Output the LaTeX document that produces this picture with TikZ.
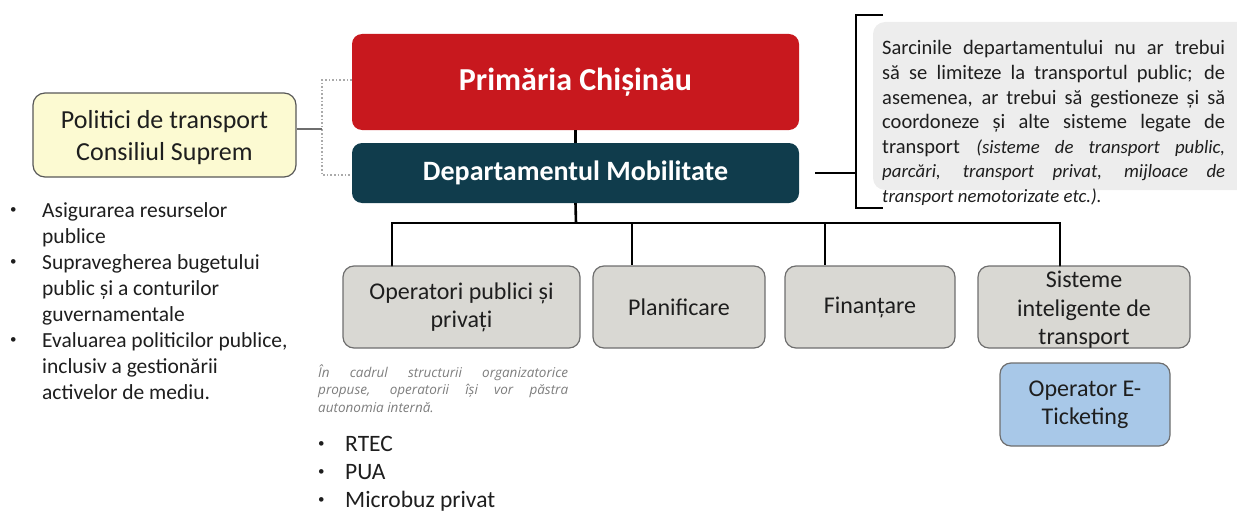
\documentclass[tikz,border=0pt]{standalone}
\usepackage{fontspec}
\setmainfont{Carlito}
\newfontfamily\notefont{Open Sans}
\usetikzlibrary{calc}
\definecolor{cRed}{RGB}{200,24,30}
\definecolor{cTeal}{RGB}{16,60,76}
\definecolor{cGray}{RGB}{217,216,211}
\definecolor{cGrayLine}{RGB}{110,110,110}
\definecolor{cBlue}{RGB}{168,200,232}
\definecolor{cYellow}{RGB}{252,250,210}
\definecolor{cNote}{RGB}{237,237,237}
\definecolor{cText}{RGB}{30,30,30}
\definecolor{cItal}{RGB}{125,125,125}
\definecolor{cDot}{RGB}{170,170,170}
\newcommand{\smallbul}{\raisebox{0.15em}{\fontsize{13}{13}\selectfont•}}
\tikzset{
  topbox/.style={rounded corners=10pt, text=white, inner sep=0pt, minimum width=447pt},
  unitbox/.style={rounded corners=11pt, draw=cGrayLine, line width=1.2pt, fill=cGray, text=cText, inner sep=0pt, align=center, font=\fontsize{24}{28}\selectfont, minimum height=82pt},
  unittext/.style={inner sep=0pt, text=cText, align=center, font=\fontsize{24}{28.5}\selectfont},
  polbox/.style={rounded corners=12pt, draw=cGrayLine!80!black, line width=1.2pt, fill=cYellow, text=cText, inner sep=0pt, align=center, font=\fontsize{26}{32}\selectfont, minimum width=263pt, minimum height=84pt},
  bluebox/.style={rounded corners=11pt, draw=cGrayLine, line width=1.2pt, fill=cBlue, text=cText, inner sep=0pt, align=center, font=\fontsize{24}{28}\selectfont, minimum width=170pt, minimum height=83pt},
  orgline/.style={line width=2.6pt, black},
  dotline/.style={cDot, line width=1.6pt, dotted},
  thinline/.style={cGrayLine, line width=1.2pt},
  brkline/.style={line width=2.2pt, black},
  plain/.style={inner sep=0pt, text=cText, align=left},
  justtext/.style={inner sep=0pt, text=cText, align=justify}
}
\begin{document}
\begin{tikzpicture}[x=1pt,y=-1pt]
\useasboundingbox (0,0) rectangle (1237,511);
% top boxes
\node[topbox, fill=cRed, minimum height=96pt, font=\fontsize{32}{36}\selectfont\bfseries] (prim) at (575.5,82) {Primăria Chișinău};
\node[topbox, fill=cTeal, minimum height=60pt, font=\fontsize{28}{32}\selectfont\bfseries] (dept) at (575.5,173) {Departamentul Mobilitate};
% unit boxes
\node[unitbox, minimum width=237pt] (ops) at (461.5,307) {Operatori publici și\\privați};
\node[unitbox, minimum width=172pt] (plan) at (679,307) {Planificare};
\node[unitbox, minimum width=170pt] (fin) at (870,307) {Finanțare};
\node[unitbox, minimum width=212pt] (its) at (1084,307) {};
\node[unittext] (itstext) at (1084,310) {Sisteme\\inteligente de\\transport};
\node[bluebox] (etk) at (1085,404.5) {Operator E-\\Ticketing};
% politici
\node[polbox] (pol) at (164.5,135) {};
\node[inner sep=0pt, text=cText, align=center, font=\fontsize{26}{32}\selectfont] (poltext) at (164.5,137.5) {Politici de transport\\Consiliul Suprem};
% org connectors
\draw[orgline] (prim.south) -- (dept.north);
\coordinate (bus) at (576,223);
\coordinate (bl) at (392,223);
\coordinate (br) at (1060,223);
\coordinate (bp) at (632,223);
\coordinate (bf) at (825,223);
\draw[orgline] (dept.south) -- (bus);
\draw[orgline, line cap=round] (bl |- ops.north) -- (bl) -- (br) -- (br |- its.north);
\draw[orgline] (bp) -- (bp |- plan.north);
\draw[orgline] (bf) -- (bf |- fin.north);
% left dotted bracket
\coordinate (dl) at (322,129);
\draw[dotline] (prim.west |- 0,80) -| (dl) |- (dept.west |- 0,175);
\draw[thinline] (pol.east |- dl) -- (dl);
% right bracket
\coordinate (bx) at (856,173);
\coordinate (btop) at (883,15);
\coordinate (bbot) at (883,208);
\draw[brkline] (btop) -- (bx |- btop) -- (bx |- bbot) -- (bbot);
\draw[brkline] ($(dept.east)+(16,0)$) -- (bx);
% note box on the right
\fill[cNote, rounded corners=12pt] (873,22) rectangle (1250,190);
\node[justtext, anchor=base west, text width=343pt, font=\fontsize{20.5}{24.6}\selectfont] (task) at (882,55) {%
\makebox[343pt][s]{Sarcinile departamentului nu ar trebui}\\
\makebox[343pt][s]{să se limiteze la transportul public; de}\\
\makebox[343pt][s]{asemenea, ar trebui să gestioneze și să}\\
\makebox[343pt][s]{coordoneze și alte sisteme legate de}\\
\makebox[343pt][s]{transport \itshape\fontsize{18.8}{24.6}\selectfont (sisteme de transport public,}\\
\makebox[343pt][s]{\itshape\fontsize{18.8}{24.6}\selectfont parcări, transport privat, mijloace de}\\
{\itshape\fontsize{18.8}{24.6}\selectfont transport nemotorizate etc.).}};
% left bullets
\node[plain, anchor=base west, font=\fontsize{21.5}{26}\selectfont] (lbul) at (10,217) {%
\begin{tabular}[t]{@{}p{32pt}@{}l@{}}
\smallbul&Asigurarea resurselor\\
&publice\\
\smallbul&Supravegherea bugetului\\
&public și a conturilor\\
&guvernamentale\\
\smallbul&Evaluarea politicilor publice,\\
&inclusiv a gestionării\\
&activelor de mediu.
\end{tabular}};
% italic note
\node[justtext, anchor=base west, text width=250pt, text=cItal, font=\notefont\itshape\fontsize{13.5}{17.5}\selectfont] (inote) at (318,377) {%
\makebox[250pt][s]{În cadrul structurii organizatorice}\\
\makebox[250pt][s]{propuse, operatorii își vor păstra}\\
autonomia internă.};
% operator bullets
\node[plain, anchor=base west, font=\fontsize{23.5}{28}\selectfont] (obul) at (318,451) {%
\begin{tabular}[t]{@{}p{27pt}@{}l@{}}
\smallbul&RTEC\\
\smallbul&PUA\\
\smallbul&Microbuz privat
\end{tabular}};
\end{tikzpicture}
\end{document}
